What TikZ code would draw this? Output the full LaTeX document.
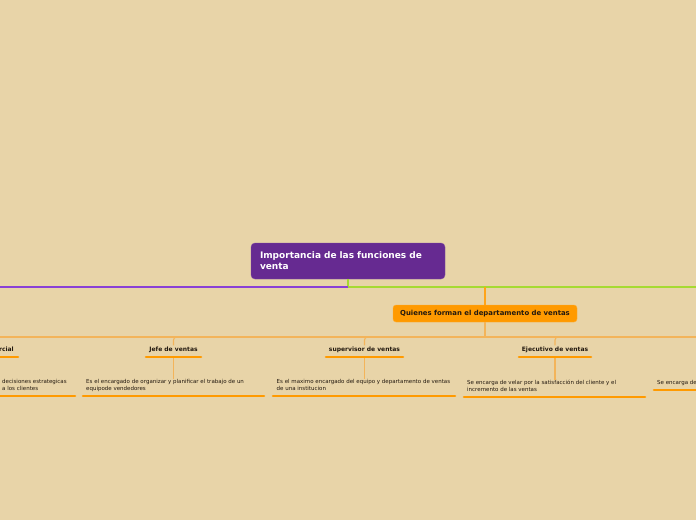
\documentclass[tikz,border=0pt]{standalone}
\usepackage{fontspec}
\setmainfont{DejaVu Sans}
\definecolor{bg}{RGB}{232,212,168}
\definecolor{mainpurple}{RGB}{102,42,145}
\definecolor{linepurple}{RGB}{138,64,214}
\definecolor{linegreen}{RGB}{166,218,50}
\definecolor{orangenode}{RGB}{255,154,0}
\definecolor{thinorange}{RGB}{243,180,90}
\definecolor{txt}{RGB}{35,25,15}
\tikzset{
  central/.style={fill=mainpurple, draw=mainpurple!85!white, rounded corners=4pt,
    minimum width=194pt, minimum height=36pt, text width=176pt, align=left,
    inner sep=0pt, text=white, font=\fontsize{9}{11}\selectfont\bfseries},
  deptbox/.style={fill=orangenode, draw=orangenode!80!white, rounded corners=3pt,
    minimum width=184pt, minimum height=17pt, inner sep=0pt, text=txt,
    font=\fontsize{6.9}{7.5}\selectfont\bfseries},
  rolelabel/.style={inner sep=1pt, text=txt, font=\fontsize{6}{6.5}\selectfont\bfseries},
  desc/.style={inner sep=0pt, align=left, text=txt, font=\fontsize{5.5}{7.3}\selectfont},
  uline/.style={draw=orangenode, line width=2.6pt, line cap=round},
  conn/.style={draw=thinorange, line width=1.1pt},
  purpleline/.style={draw=linepurple, line width=1.4pt},
  greenline/.style={draw=linegreen, line width=1.4pt},
}
\begin{document}
\begin{tikzpicture}[x=1pt,y=-1pt]
\useasboundingbox (0,0) rectangle (696,520);
\clip (0,0) rectangle (696,520);
\fill[bg] (0,0) rectangle (696,520);

% coordinates
\coordinate (hub) at (348,287);
\coordinate (leftend) at (-10,287);
\coordinate (rightend) at (710,287);
\coordinate (tap) at (485,287);
\coordinate (busL) at (-10,337);
\coordinate (busR) at (710,337);
\coordinate (busM) at (485,337);

% nodes
\node[central] (root) at (348,261) {Importancia de las funciones de\\venta};
\node[deptbox] (dept) at (485,313.5) {Quienes forman el departamento de ventas};

\node[rolelabel, anchor=east] (gerente) at (15,349.5) {Gerente comercial};
\node[rolelabel] (jefe) at (173.5,349.5) {Jefe de ventas};
\node[rolelabel] (super) at (364.5,349.5) {supervisor de ventas};
\node[rolelabel] (ejec) at (555,349.5) {Ejecutivo de ventas};

\node[desc, anchor=north west] (dger) at (2,379) {decisiones estrategicas\\a los clientes};
\node[desc, anchor=north west] (djefe) at (86,379) {Es el encargado de organizar y planificar el trabajo de un\\equipode vendedores};
\node[desc, anchor=north west] (dsuper) at (276.5,379) {Es el maximo encargado del equipo y departamento de ventas\\de una institucion};
\node[desc, anchor=north west] (dejec) at (467,380) {Se encarga de velar por la satisfacción del cliente y el\\incremento de las ventas};
\node[desc, anchor=north west] (dright) at (657,380) {Se encarga de};

% main lines
\draw[greenline] (root.south) -- (hub) -- (rightend);
\draw[purpleline] (hub) -- (leftend);
\draw[conn, draw=orangenode!90!white, rounded corners=3pt] (tap) -- (dept.north);
\draw[conn] (dept.south) -- (busM);
\draw[conn] (busL) -- (busR);

% branches to role labels
\draw[conn, rounded corners=3pt] (jefe.north) -- (jefe.north |- busM) -- ++(8,0);
\draw[conn, rounded corners=3pt] (super.north) -- (super.north |- busM) -- ++(8,0);
\draw[conn, rounded corners=3pt] (ejec.north) -- (ejec.north |- busM) -- ++(8,0);

% role underlines
\coordinate (jefeU) at (173.5,358);
\coordinate (superU) at (364.5,358);
\coordinate (ejecU) at (555,358);
\draw[uline] (-5,357) -- (18,357);
\draw[uline] (146,357) -- (201,357);
\draw[uline] (326,357) -- (403,357);
\draw[uline] (519,357) -- (591,357);

% connectors from role to description
\draw[conn] (jefeU) -- (jefeU |- djefe.north);
\draw[conn] (superU) -- (superU |- dsuper.north);
\draw[conn] (ejecU) -- (ejecU |- dejec.north);

% description underlines
\draw[uline] (-5,396) -- (75,396);
\draw[uline] (83,396) -- (264,396);
\draw[uline] (273,396) -- (455,396);
\draw[uline] (464,397) -- (645,397);
\draw[uline] (654,390) -- (705,390);
\end{tikzpicture}
\end{document}
